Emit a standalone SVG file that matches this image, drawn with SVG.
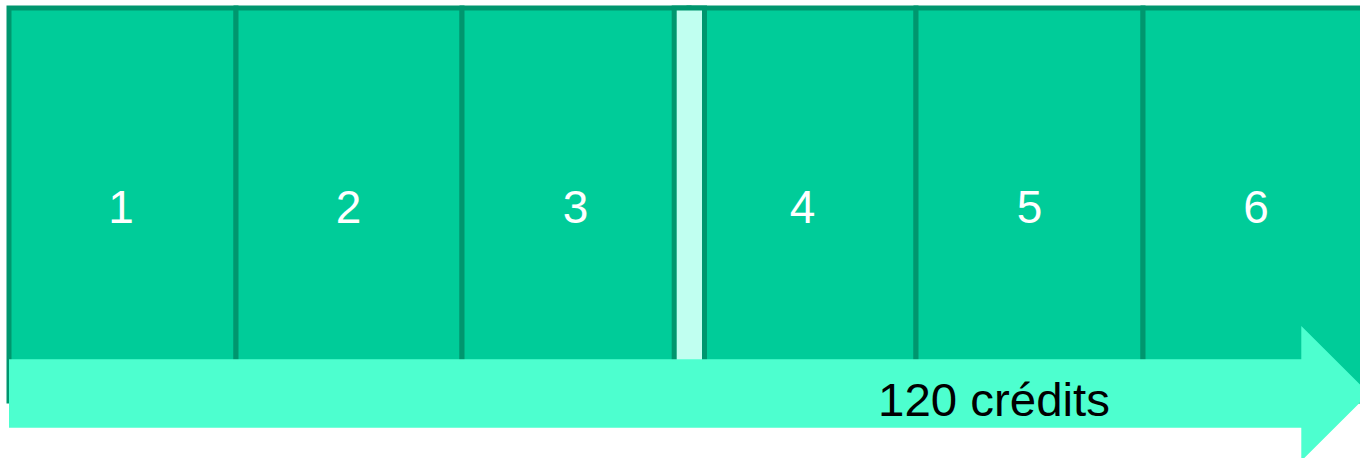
<svg xmlns="http://www.w3.org/2000/svg" width="1360" height="458" viewBox="0 0 1360 458">
<style>
.cell{fill:#00CC99;stroke:#00966E;stroke-width:5}
.gap{fill:#C0FFF0;stroke:#00966E;stroke-width:5}
.num{font-family:"Liberation Sans",Arial,sans-serif;font-size:46px;fill:#FFFFFF;text-anchor:middle}
.lbl{font-family:"Liberation Sans",Arial,sans-serif;font-size:47px;fill:#000000}
</style>
<rect width="1360" height="458" fill="#FFFFFF"/>
<g id="cell1"><rect class="cell" x="9" y="8" width="227" height="393"/><text class="num" x="121" y="223">1</text></g>
<g id="cell2"><rect class="cell" x="236" y="8" width="226" height="393"/><text class="num" x="348.5" y="223">2</text></g>
<g id="cell3"><rect class="cell" x="462" y="8" width="227" height="393"/><text class="num" x="575.5" y="223">3</text></g>
<g id="cell4"><rect class="cell" x="689" y="8" width="227" height="393"/><text class="num" x="802.5" y="223">4</text></g>
<g id="cell5"><rect class="cell" x="916" y="8" width="227" height="393"/><text class="num" x="1029.5" y="223">5</text></g>
<g id="cell6"><rect class="cell" x="1143" y="8" width="227" height="393"/><text class="num" x="1256" y="223">6</text></g>
<g id="gap"><rect class="gap" x="674.2" y="8" width="30.3" height="393"/></g>
<g id="connectors">
<polygon id="arrow" points="9,359.3 1301.3,359.3 1301.3,326 1369,393.5 1301.3,461 1301.3,427.7 9,427.7" fill="#4DFFCF"/>
<text class="lbl" x="878" y="416" textLength="232" lengthAdjust="spacingAndGlyphs">120 crédits</text>
</g>
</svg>
